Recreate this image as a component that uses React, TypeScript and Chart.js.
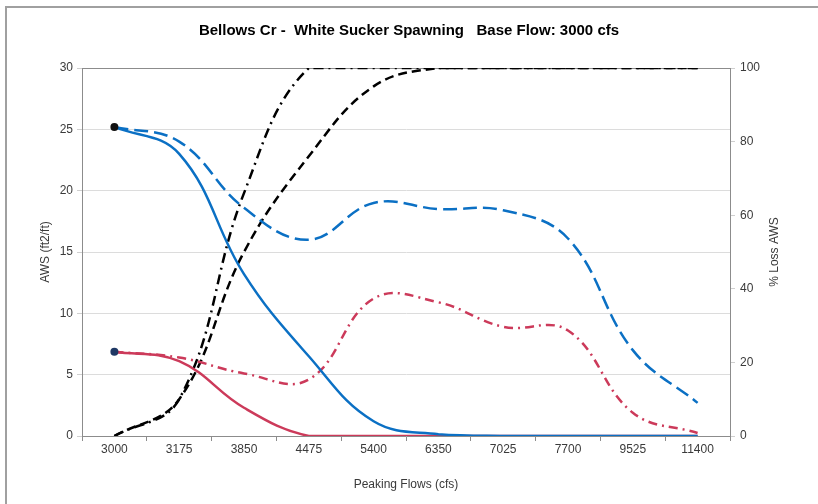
import React, { useEffect, useRef } from 'react';
import { Chart, registerables } from 'chart.js';

Chart.register(...registerables);

const categories = ['3000', '3175', '3850', '4475', '5400', '6350', '7025', '7700', '9525', '11400'];

// AWS (ft2/ft) – left axis
const blueSolid = [25.2, 23.0, 13.2, 6.5, 1.2, 0.15, 0, 0, 0, 0];
const blueDashed = [25.2, 24.0, 18.6, 16.0, 19.0, 18.5, 18.4, 16.1, 7.0, 2.7];
const redSolid = [6.87, 6.1, 2.3, 0, 0, 0, 0, 0, 0, 0];
const redDashDot = [6.87, 6.4, 5.1, 4.6, 11.2, 10.9, 8.9, 8.6, 1.9, 0.25];

// % Loss AWS – right axis
const blackDashed = [0, 10, 50, 76, 95, 100, 100, 100, 100, 100];
const blackDashDot = [0, 10, 66, 100, 100, 100, 100, 100, 100, 100];

const leftTicks = [0, 5, 10, 15, 20, 25, 30];
const rightTicks = [0, 20, 40, 60, 80, 100];

const TITLE = 'Bellows Cr -  White Sucker Spawning   Base Flow: 3000 cfs';
const X_TITLE = 'Peaking Flows (cfs)';
const Y_TITLE = 'AWS (ft2/ft)';
const Y1_TITLE = '% Loss AWS';

const FONT = "'Liberation Sans Narrow', 'Liberation Sans', Arial, sans-serif";
const TEXT = '#3a3a3a';

const rightTitlePlugin = {
  id: 'rightTitle',
  afterDraw(chart: any) {
    const ctx = chart.ctx;
    ctx.save();
    ctx.translate(775, (chart.chartArea.top + chart.chartArea.bottom) / 2);
    ctx.rotate(-Math.PI / 2);
    ctx.font = `12px ${FONT}`;
    ctx.fillStyle = TEXT;
    ctx.textAlign = 'center';
    ctx.textBaseline = 'middle';
    ctx.fillText(Y1_TITLE, 0, 0);
    ctx.restore();
  },
};

export default function App() {
  const ref = useRef<HTMLCanvasElement>(null);
  useEffect(() => {
    const firstOnly = (r: number) => categories.map((_, i) => (i === 0 ? r : 0));
    const chart = new Chart(ref.current!, {
      type: 'line',
      data: {
        labels: categories,
        datasets: [
          {
            data: blueSolid,
            yAxisID: 'y',
            borderColor: '#0b70c4',
            borderWidth: 2.5,
            pointRadius: firstOnly(4),
            pointBackgroundColor: '#111',
            pointBorderWidth: 0,
            tension: 0.4,
            order: 1,
          },
          {
            data: blueDashed,
            yAxisID: 'y',
            borderColor: '#0b70c4',
            borderWidth: 2.5,
            borderDash: [14, 6],
            pointRadius: 0,
            tension: 0.4,
            order: 3,
          },
          {
            data: redSolid,
            yAxisID: 'y',
            borderColor: '#cc3a5a',
            borderWidth: 2.5,
            pointRadius: firstOnly(4),
            pointBackgroundColor: '#1f3864',
            pointBorderWidth: 0,
            tension: 0.4,
            order: 2,
          },
          {
            data: redDashDot,
            yAxisID: 'y',
            borderColor: '#cc3a5a',
            borderWidth: 2.5,
            borderDash: [9, 5, 2, 5],
            pointRadius: 0,
            tension: 0.4,
            order: 4,
          },
          {
            data: blackDashed,
            yAxisID: 'y1',
            borderColor: '#000',
            borderWidth: 2.5,
            borderDash: [9, 5],
            pointRadius: 0,
            tension: 0.4,
            order: 5,
          },
          {
            data: blackDashDot,
            yAxisID: 'y1',
            borderColor: '#000',
            borderWidth: 2.5,
            borderDash: [10, 5, 2, 5],
            pointRadius: 0,
            tension: 0.4,
            order: 6,
          },
        ],
      },
      options: {
        responsive: false,
        animation: false,
        layout: { padding: 0 },
        plugins: {
          legend: { display: false },
          tooltip: { enabled: false },
          title: {
            display: true,
            text: TITLE,
            color: '#000',
            font: { family: FONT, size: 15, weight: 'bold' },
            padding: { top: 22, bottom: 28 },
          },
        },
        scales: {
          x: {
            type: 'category',
            offset: true,
            grid: { display: true, drawOnChartArea: false, offset: true, tickLength: 5, color: '#8c8c8c' },
            border: { color: '#8c8c8c', width: 1 },
            ticks: { color: TEXT, font: { family: FONT, size: 12 }, padding: 1, maxRotation: 0, autoSkip: false },
            title: { display: true, text: X_TITLE, color: TEXT, font: { family: FONT, size: 12 }, padding: { bottom: 12 } },
            afterFit: (s: any) => { s.height = 68; },
          },
          y: {
            position: 'left',
            min: 0,
            max: 30,
            afterBuildTicks: (s: any) => { s.ticks = leftTicks.map((v) => ({ value: v })); },
            grid: {
              color: (c: any) => (c.tick && c.tick.value === 30 ? '#8c8c8c' : '#dcdcdc'),
              tickLength: 5,
              tickColor: '#cfcfcf',
            },
            border: { color: '#8c8c8c', width: 1 },
            ticks: { color: TEXT, font: { family: FONT, size: 12 }, padding: 4 },
            title: { display: true, text: Y_TITLE, color: TEXT, font: { family: FONT, size: 12 }, padding: { top: 38 } },
            afterFit: (s: any) => { s.width = 82; },
          },
          y1: {
            position: 'right',
            min: 0,
            max: 100,
            afterBuildTicks: (s: any) => { s.ticks = rightTicks.map((v) => ({ value: v })); },
            grid: { drawOnChartArea: false, tickLength: 5, color: '#cfcfcf' },
            border: { color: '#8c8c8c', width: 1 },
            ticks: { color: TEXT, font: { family: FONT, size: 12 }, padding: 5 },
            afterFit: (s: any) => { s.width = 88; },
          },
        },
      },
      plugins: [rightTitlePlugin],
    } as any);
    return () => chart.destroy();
  }, []);

  return (
    <div style={{ position: 'absolute', left: 0, top: 0, width: 818, height: 504, background: '#fff', overflow: 'hidden' }}>
      <div style={{ position: 'absolute', left: 5, top: 6, width: 830, height: 520, borderTop: '2px solid #a0a0a0', borderLeft: '2px solid #a0a0a0' }} />
      <canvas ref={ref} width={818} height={504} style={{ position: 'absolute', left: 0, top: 0 }} />
    </div>
  );
}
